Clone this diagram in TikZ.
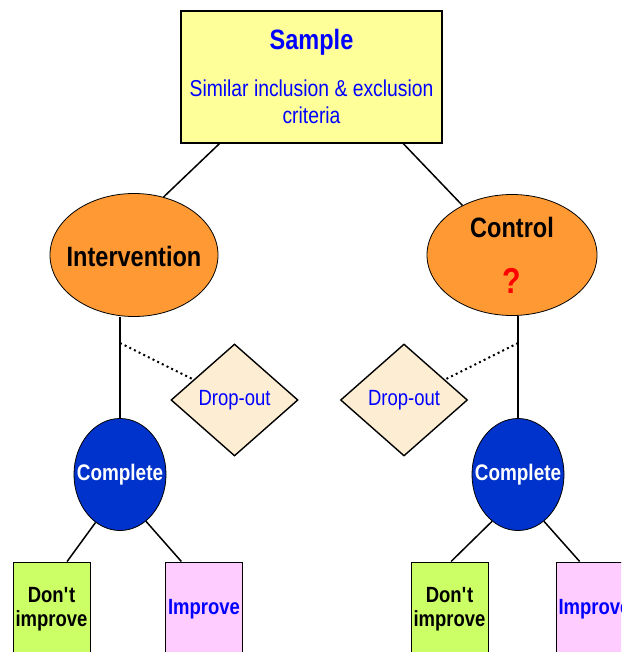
\documentclass[tikz,border=0pt]{standalone}
\usepackage{fontspec}
\setmainfont[FakeStretch=0.84]{Liberation Sans}
\usetikzlibrary{shapes.geometric,calc}
\definecolor{sampleY}{HTML}{FFFF99}
\definecolor{orangeE}{HTML}{FF9933}
\definecolor{dropF}{HTML}{FDEDD3}
\definecolor{compB}{HTML}{0033CC}
\definecolor{greenB}{HTML}{CCFF66}
\definecolor{pinkB}{HTML}{FFCCFF}
\definecolor{txtB}{HTML}{0000FF}
\tikzset{
  conn/.style={line width=1.5pt},
  dotconn/.style={line width=2pt, dash pattern=on 2pt off 3.2pt},
  oval/.style={ellipse, draw=black, line width=0.8pt, fill=orangeE, minimum width=168pt, minimum height=123pt, inner sep=0pt},
  dropbox/.style={diamond, draw=black, line width=1.4pt, fill=dropF, minimum width=127pt, minimum height=112pt, inner sep=0pt, text=txtB, font=\fontsize{22}{24}\selectfont},
  compbox/.style={ellipse, draw=black, line width=0.8pt, fill=compB, minimum width=92pt, minimum height=112pt, inner sep=0pt},
  comptext/.style={text=white, font=\bfseries\fontsize{22.5}{24}\selectfont},
  outbox/.style={rectangle, draw=black, line width=1pt, minimum width=77pt, minimum height=94pt, inner sep=0pt, align=center, font=\bfseries\fontsize{22}{24.5}\selectfont}
}
\begin{document}
\begin{tikzpicture}[x=1pt,y=-1pt]
\useasboundingbox (0,0) rectangle (621,652);
\clip (0,0) rectangle (621,652);
% top box
\node[rectangle, draw=black, line width=1.2pt, fill=sampleY, minimum width=261pt, minimum height=132pt, inner sep=0pt] (sample) at (311.5,77) {};
\node[text=txtB, font=\bfseries\fontsize{28}{30}\selectfont] (sampleT) at (311.5,42) {Sample};
\node[text=txtB, align=center, font=\fontsize{23}{27}\selectfont] (sampleS) at (311.5,102) {Similar inclusion \& exclusion\\criteria};
% ellipses
\node[oval] (int) at (134,255) {};
\node[font=\bfseries\fontsize{28}{30}\selectfont] (intT) at (134,256) {Intervention};
\node[oval, minimum width=170pt, minimum height=121pt] (ctl) at (512,255) {};
\node[font=\bfseries\fontsize{28}{30}\selectfont] (ctlT) at (512,227) {Control};
\node[text=red, font=\bfseries\fontsize{36}{38}\selectfont] (ctlQ) at (512,281) {?};
% diamonds
\node[dropbox] (dropL) at (234.5,400) {Drop-out};
\node[dropbox] (dropR) at (404,400) {Drop-out};
% complete
\node[compbox] (compL) at (120,474.5) {};
\node[comptext] (compLT) at (120,474.5) {Complete};
\node[compbox] (compR) at (518,474.5) {};
\node[comptext] (compRT) at (518,474.5) {Complete};
% outcome boxes
\node[outbox, fill=greenB] (dl) at (51.5,609) {Don\textquotesingle t\\improve};
\node[outbox, fill=pinkB, text=txtB] (il) at (204,609) {Improve};
\node[outbox, fill=greenB] (dr) at (449.5,609) {Don\textquotesingle t\\improve};
\node[outbox, fill=pinkB, text=txtB] (ir) at (594.5,609) {Improve};
% connectors
\coordinate (sL) at ($(sample.south west)!0.149!(sample.south east)$);
\coordinate (sR) at ($(sample.south west)!0.85!(sample.south east)$);
\draw[conn] (sL) -- (int.63);
\draw[conn] (sR) -- (ctl.135);
\draw[conn] (compL.north) -- (compL.north |- int.south);
\draw[conn] (compR.north) -- (compR.north |- ctl.south);
\coordinate (jL) at (compL.north |- 0,343);
\coordinate (jR) at (compR.north |- 0,343);
\draw[dotconn] (jL) -- (dropL);
\draw[dotconn] (jR) -- (dropR);
\draw[conn] (compL.243) -- ($(dl.north west)!0.7!(dl.north east)$);
\draw[conn] (compL.299) -- ($(il.north west)!0.21!(il.north east)$);
\draw[conn] (compR.241) -- ($(dr.north west)!0.52!(dr.north east)$);
\draw[conn] (compR.299) -- ($(ir.north west)!0.31!(ir.north east)$);
\end{tikzpicture}
\end{document}
